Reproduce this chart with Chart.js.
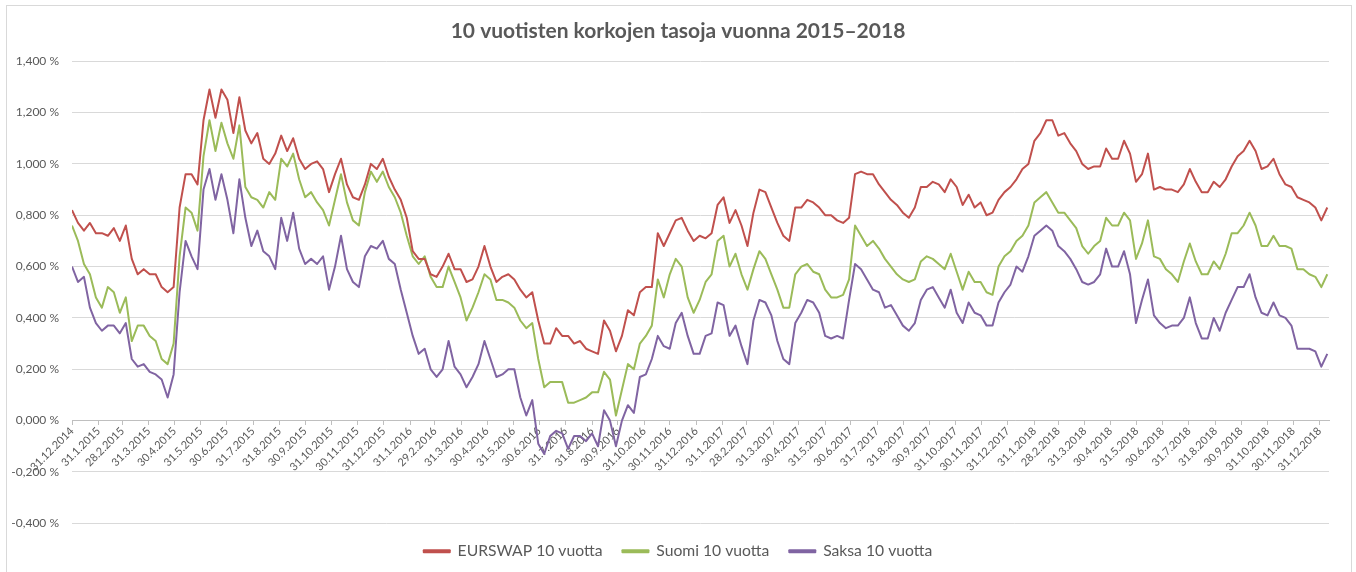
<!DOCTYPE html>
<html>
<head>
<meta charset="utf-8">
<script src="https://cdn.jsdelivr.net/npm/chart.js@4.4.1/dist/chart.umd.min.js"></script>
<style>
  html, body { margin: 0; padding: 0; background: #ffffff; }
  #wrap { width: 1356px; height: 572px; position: relative; }
</style>
</head>
<body>
<div id="wrap"><canvas id="c" width="1356" height="572"></canvas></div>
<script>
// ---- DATA ----
const titleText = '10 vuotisten korkojen tasoja vuonna 2015\u20132018';
const startDate = '2014-12-31';
// sample positions: days after startDate
const dayOffsets = [
  0,7,14,21,28,35,42,49,56,63,
  70,77,84,91,98,105,112,119,126,133,
  140,147,154,161,168,175,182,189,196,203,
  210,217,224,231,238,245,252,259,266,273,
  280,287,294,301,308,315,322,329,336,343,
  350,357,364,371,378,385,392,399,406,413,
  420,427,434,441,448,455,462,469,476,483,
  490,497,504,511,518,525,532,539,546,553,
  560,567,574,581,588,595,602,609,616,623,
  630,637,644,651,658,665,672,679,686,693,
  700,707,714,721,728,735,742,749,756,763,
  770,777,784,791,798,805,812,819,826,833,
  840,847,854,861,868,875,882,889,896,903,
  910,917,924,931,938,945,952,959,966,973,
  980,987,994,1001,1008,1015,1022,1029,1036,1043,
  1050,1057,1064,1071,1078,1085,1092,1099,1106,1113,
  1120,1127,1134,1141,1148,1155,1162,1169,1176,1183,
  1190,1197,1204,1211,1218,1225,1232,1239,1246,1253,
  1260,1267,1274,1281,1288,1295,1302,1309,1316,1323,
  1330,1337,1344,1351,1358,1365,1372,1379,1386,1393,
  1400,1407,1414,1421,1428,1435,1442,1449,1456,1463,
  1470
];
const seriesNames = ['EURSWAP 10 vuotta', 'Suomi 10 vuotta', 'Saksa 10 vuotta'];
const eurswap = [
  0.82,0.77,0.74,0.77,0.73,0.73,0.72,0.75,0.70,0.76,
  0.63,0.57,0.59,0.57,0.57,0.52,0.50,0.52,0.83,0.96,
  0.96,0.92,1.17,1.29,1.18,1.29,1.25,1.12,1.26,1.13,
  1.08,1.12,1.02,1.00,1.04,1.11,1.05,1.10,1.02,0.98,
  1.00,1.01,0.98,0.89,0.96,1.02,0.92,0.87,0.86,0.92,
  1.00,0.98,1.02,0.95,0.90,0.86,0.79,0.66,0.63,0.63,
  0.57,0.56,0.60,0.65,0.59,0.59,0.54,0.55,0.60,0.68,
  0.60,0.54,0.56,0.57,0.55,0.51,0.48,0.50,0.39,0.30,
  0.30,0.36,0.33,0.33,0.30,0.31,0.28,0.27,0.26,0.39,
  0.35,0.27,0.33,0.43,0.41,0.50,0.52,0.52,0.73,0.68,
  0.73,0.78,0.79,0.74,0.70,0.72,0.71,0.73,0.84,0.87,
  0.77,0.82,0.76,0.68,0.81,0.90,0.89,0.83,0.77,0.72,
  0.70,0.83,0.83,0.86,0.85,0.83,0.80,0.80,0.78,0.77,
  0.79,0.96,0.97,0.96,0.96,0.92,0.89,0.86,0.84,0.81,
  0.79,0.83,0.91,0.91,0.93,0.92,0.89,0.94,0.91,0.84,
  0.88,0.83,0.85,0.80,0.81,0.86,0.89,0.91,0.94,0.98,
  1.00,1.09,1.12,1.17,1.17,1.11,1.12,1.08,1.05,1.00,
  0.98,0.99,0.99,1.06,1.02,1.02,1.09,1.04,0.93,0.96,
  1.04,0.90,0.91,0.90,0.90,0.89,0.92,0.98,0.93,0.89,
  0.89,0.93,0.91,0.94,0.99,1.03,1.05,1.09,1.05,0.98,
  0.99,1.02,0.96,0.92,0.91,0.87,0.86,0.85,0.83,0.78,
  0.83
];
const suomi = [
  0.76,0.70,0.61,0.57,0.48,0.44,0.52,0.50,0.42,0.48,
  0.31,0.37,0.37,0.33,0.31,0.24,0.22,0.30,0.64,0.83,
  0.81,0.74,1.03,1.17,1.05,1.16,1.08,1.02,1.15,0.91,
  0.87,0.86,0.83,0.89,0.86,1.02,0.99,1.04,0.94,0.87,
  0.89,0.85,0.82,0.76,0.86,0.96,0.85,0.78,0.76,0.89,
  0.97,0.93,0.97,0.91,0.87,0.81,0.72,0.64,0.61,0.64,
  0.56,0.52,0.52,0.60,0.54,0.48,0.39,0.44,0.50,0.57,
  0.55,0.47,0.47,0.46,0.44,0.39,0.36,0.38,0.24,0.13,
  0.15,0.15,0.15,0.07,0.07,0.08,0.09,0.11,0.11,0.19,
  0.16,0.02,0.12,0.22,0.20,0.30,0.33,0.37,0.55,0.48,
  0.57,0.63,0.60,0.48,0.42,0.47,0.54,0.57,0.70,0.72,
  0.60,0.65,0.57,0.51,0.59,0.66,0.63,0.57,0.51,0.44,
  0.44,0.57,0.60,0.61,0.58,0.57,0.51,0.48,0.48,0.49,
  0.55,0.76,0.72,0.68,0.70,0.67,0.63,0.60,0.57,0.55,
  0.54,0.55,0.62,0.64,0.63,0.61,0.59,0.65,0.58,0.51,
  0.58,0.54,0.54,0.50,0.49,0.60,0.64,0.66,0.70,0.72,
  0.76,0.85,0.87,0.89,0.85,0.81,0.81,0.78,0.75,0.68,
  0.65,0.68,0.70,0.79,0.76,0.76,0.81,0.78,0.63,0.69,
  0.78,0.64,0.63,0.59,0.57,0.54,0.62,0.69,0.62,0.57,
  0.57,0.62,0.59,0.65,0.73,0.73,0.76,0.81,0.76,0.68,
  0.68,0.72,0.68,0.68,0.67,0.59,0.59,0.57,0.56,0.52,
  0.57
];
const saksa = [
  0.60,0.54,0.56,0.44,0.38,0.35,0.37,0.37,0.34,0.38,
  0.24,0.21,0.22,0.19,0.18,0.16,0.09,0.18,0.50,0.70,
  0.64,0.59,0.90,0.98,0.86,0.96,0.86,0.73,0.94,0.79,
  0.68,0.74,0.66,0.64,0.59,0.79,0.70,0.81,0.67,0.61,
  0.63,0.61,0.64,0.51,0.60,0.72,0.59,0.54,0.52,0.64,
  0.68,0.67,0.70,0.63,0.61,0.51,0.42,0.33,0.26,0.28,
  0.20,0.17,0.20,0.31,0.21,0.18,0.13,0.17,0.22,0.31,
  0.24,0.17,0.18,0.20,0.20,0.09,0.02,0.08,-0.09,-0.13,
  -0.06,-0.04,-0.05,-0.11,-0.06,-0.06,-0.08,-0.05,-0.10,0.04,
  0.00,-0.10,0.00,0.06,0.03,0.17,0.18,0.24,0.33,0.29,
  0.28,0.38,0.42,0.33,0.26,0.26,0.33,0.34,0.46,0.45,
  0.33,0.37,0.29,0.22,0.39,0.47,0.46,0.41,0.31,0.24,
  0.22,0.38,0.42,0.47,0.46,0.42,0.33,0.32,0.33,0.32,
  0.47,0.61,0.59,0.55,0.51,0.50,0.44,0.45,0.41,0.37,
  0.35,0.38,0.47,0.51,0.52,0.48,0.44,0.51,0.42,0.38,
  0.46,0.42,0.41,0.37,0.37,0.46,0.50,0.53,0.60,0.58,
  0.64,0.72,0.74,0.76,0.74,0.68,0.66,0.63,0.59,0.54,
  0.53,0.54,0.57,0.67,0.60,0.60,0.66,0.57,0.38,0.47,
  0.55,0.41,0.38,0.36,0.37,0.37,0.40,0.48,0.38,0.32,
  0.32,0.40,0.35,0.42,0.47,0.52,0.52,0.57,0.48,0.42,
  0.41,0.46,0.41,0.40,0.37,0.28,0.28,0.28,0.27,0.21,
  0.26
];
const tickLabels = [
  '31.12.2014','31.1.2015','28.2.2015','31.3.2015','30.4.2015','31.5.2015','30.6.2015',
  '31.7.2015','31.8.2015','30.9.2015','31.10.2015','30.11.2015','31.12.2015',
  '31.1.2016','29.2.2016','31.3.2016','30.4.2016','31.5.2016','30.6.2016',
  '31.7.2016','31.8.2016','30.9.2016','31.10.2016','30.11.2016','31.12.2016',
  '31.1.2017','28.2.2017','31.3.2017','30.4.2017','31.5.2017','30.6.2017',
  '31.7.2017','31.8.2017','30.9.2017','31.10.2017','30.11.2017','31.12.2017',
  '31.1.2018','28.2.2018','31.3.2018','30.4.2018','31.5.2018','30.6.2018',
  '31.7.2018','31.8.2018','30.9.2018','31.10.2018','30.11.2018','31.12.2018'
];
const yTickValues = [-0.4,-0.2,0,0.2,0.4,0.6,0.8,1.0,1.2,1.4];
const lastDay = 1472;

// ---- helpers ----
const DAY = 86400000;
const t0 = Date.parse(startDate + 'T00:00:00Z');
function labelToDay(s) {
  const p = s.split('.').map(Number);
  return Math.round((Date.UTC(p[2], p[1] - 1, p[0]) - t0) / DAY);
}
const tickDays = tickLabels.map(labelToDay);
const toPoints = arr => arr.map((v, i) => ({ x: dayOffsets[i], y: v }));

const colors = ['#C0504D', '#9BBB59', '#8064A2'];
const FONT = 'Lato, "Open Sans", "DejaVu Sans", sans-serif';
const TXT = '#595959';

const framePlugin = {
  id: 'frame',
  beforeDraw(chart) {
    const ctx = chart.ctx;
    ctx.save();
    ctx.fillStyle = '#ffffff';
    ctx.fillRect(0, 0, chart.width, chart.height);
    ctx.strokeStyle = '#d9d9d9';
    ctx.lineWidth = 1;
    ctx.strokeRect(6.5, 5.5, 1345, 580);
    ctx.restore();
  }
};

new Chart(document.getElementById('c'), {
  type: 'line',
  data: {
    datasets: [eurswap, suomi, saksa].map((arr, i) => ({
      label: seriesNames[i],
      data: toPoints(arr),
      borderColor: colors[i],
      backgroundColor: colors[i],
      borderWidth: 2,
      pointRadius: 0,
      tension: 0,
      borderJoinStyle: 'round',
      fill: false
    }))
  },
  options: {
    responsive: false,
    animation: false,
    events: [],
    layout: { padding: { left: 0, right: 0, top: 0, bottom: 3 } },
    plugins: {
      title: {
        display: true,
        text: titleText,
        color: TXT,
        font: { family: FONT, size: 21, weight: 'bold' },
        padding: { top: 19, bottom: 17 }
      },
      legend: {
        position: 'bottom',
        labels: {
          color: TXT,
          font: { family: FONT, size: 15.7 },
          boxWidth: 26,
          boxHeight: 2,
          padding: 20
        }
      },
      tooltip: { enabled: false }
    },
    scales: {
      x: {
        type: 'linear',
        position: { y: 0 },
        min: 0,
        max: lastDay,
        afterBuildTicks: axis => { axis.ticks = tickDays.map(v => ({ value: v })); },
        ticks: {
          autoSkip: false,
          minRotation: 45,
          maxRotation: 45,
          padding: 0,
          color: TXT,
          font: { family: FONT, size: 11 },
          callback: (v, i) => tickLabels[i]
        },
        grid: { drawOnChartArea: false, drawTicks: true, tickLength: 4, color: '#bfbfbf' },
        border: { display: true, color: '#bfbfbf', width: 1 }
      },
      y: {
        min: -0.4,
        max: 1.4,
        afterBuildTicks: axis => { axis.ticks = yTickValues.map(v => ({ value: v })); },
        afterFit: s => { s.width = 72; },
        ticks: {
          padding: 13,
          color: TXT,
          font: { family: FONT, size: 12 },
          callback: v => v.toFixed(3).replace('.', ',') + ' %'
        },
        grid: { color: '#d9d9d9', drawTicks: false },
        border: { display: false }
      },
      yRightSpacer: {
        type: 'linear',
        position: 'right',
        display: true,
        afterFit: s => { s.width = 27; },
        ticks: { display: false },
        grid: { display: false, drawOnChartArea: false, drawTicks: false },
        border: { display: false }
      }
    }
  },
  plugins: [framePlugin]
});
</script>
</body>
</html>
